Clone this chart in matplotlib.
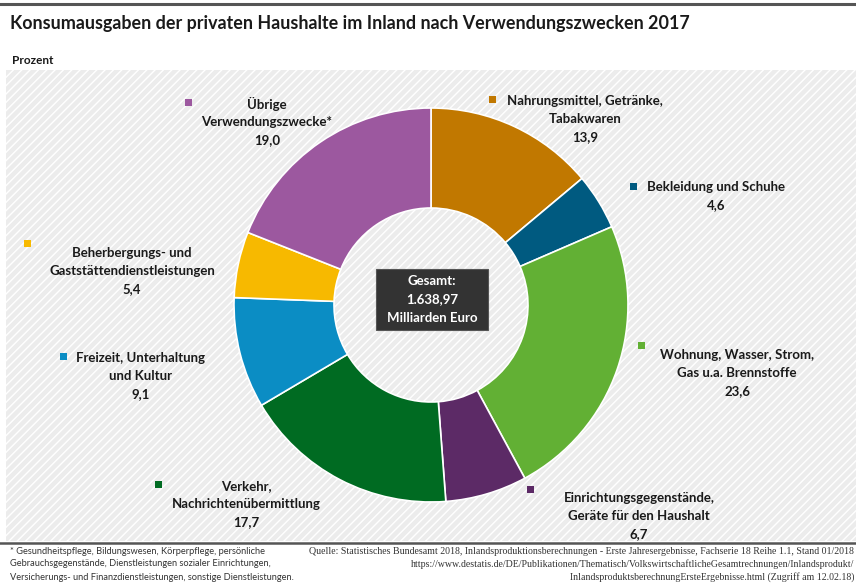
import matplotlib.pyplot as plt
from matplotlib.patches import Rectangle

plt.rcParams['font.family'] = ['Lato', 'DejaVu Sans']
plt.rcParams['hatch.linewidth'] = 1.0
plt.rcParams['hatch.color'] = 'white'

# Konsumausgaben 2017, Anteile in Prozent (im Uhrzeigersinn ab 12 Uhr)
categories = [
    "Nahrungsmittel, Getränke,\nTabakwaren",
    "Bekleidung und Schuhe",
    "Wohnung, Wasser, Strom,\nGas u.a. Brennstoffe",
    "Einrichtungsgegenstände,\nGeräte für den Haushalt",
    "Verkehr,\nNachrichtenübermittlung",
    "Freizeit, Unterhaltung\nund Kultur",
    "Beherbergungs- und\nGaststättendienstleistungen",
    "Übrige\nVerwendungszwecke*",
]
shares = [13.9, 4.6, 23.6, 6.7, 17.7, 9.1, 5.4, 19.0]
colors = ["#c17800", "#005a80", "#62b034", "#5c2a66",
          "#006b22", "#0b8dc4", "#f7b900", "#9c589f"]
total = "1.638,97"

# Beschriftung: (Marker x, Marker y, Textmitte x, erste Zeile y) in Pixeln
label_pos = [
    (493, 99, 585, 101),
    (634, 186, 716, 187),
    (642, 345, 737, 355),
    (531, 489, 639, 498),
    (159, 484, 246, 486),
    (64, 356, 141, 358),
    (28, 243, 132, 253),
    (189, 102, 267, 104),
]

W, H = 856, 583
fig = plt.figure(figsize=(W / 100, H / 100), dpi=100)
ax = fig.add_axes([0, 0, 1, 1])


def py(y):
    return H - y


# Hintergrund mit Schraffur
ax.add_patch(Rectangle((6, py(541)), W - 6, 541 - 70, facecolor="#ececec",
                       edgecolor="white", hatch="////", lw=0, zorder=0))
ax.plot([0, W], [py(4), py(4)], color="#555555", lw=2.2, zorder=1)
ax.plot([0, W], [py(543), py(543)], color="#555555", lw=1.8, zorder=1)

wedges, _ = ax.pie(shares, colors=colors, startangle=90, counterclock=False,
                   center=(431, py(305)), radius=197,
                   wedgeprops=dict(width=100, edgecolor="white", linewidth=1.2))
for w in wedges:
    w.set_zorder(2)

ax.set_xlim(0, W)
ax.set_ylim(0, H)
ax.set_aspect("auto")
ax.axis("off")

for cat, val, col, (mx, my, tx, ty) in zip(categories, shares, colors, label_pos):
    ax.add_patch(Rectangle((mx - 3.5, py(my) - 3.5), 7, 7, facecolor=col,
                           lw=0, zorder=3))
    lines = cat.split("\n") + [f"{val:.1f}".replace(".", ",")]
    for i, line in enumerate(lines):
        ax.text(tx, py(ty + i * 18), line, ha="center", va="center",
                fontsize=9.5, fontweight="bold", color="#1a1a1a", zorder=3)

# Gesamtbetrag in der Mitte
ax.add_patch(Rectangle((376, py(330)), 112, 61, facecolor="#333333",
                       edgecolor="#555555", lw=0.8, zorder=3))
for i, line in enumerate(["Gesamt:", total, "Milliarden Euro"]):
    ax.text(432, py(281 + i * 18.5), line, ha="center", va="center",
            fontsize=9.5, fontweight="bold", color="white", zorder=4)

ax.text(10, py(24), "Konsumausgaben der privaten Haushalte im Inland nach "
        "Verwendungszwecken 2017", ha="left", va="center", fontsize=12.9,
        fontweight="bold", color="#1a1a1a")
ax.text(12, py(60), "Prozent", ha="left", va="center", fontsize=8.5,
        fontweight="bold", color="#1a1a1a")

foot_left = ["* Gesundheitspflege, Bildungswesen, Körperpflege, persönliche",
             "Gebrauchsgegenstände, Dienstleistungen sozialer Einrichtungen,",
             "Versicherungs- und Finanzdienstleistungen, sonstige Dienstleistungen."]
for i, line in enumerate(foot_left):
    ax.text(10, py(551 + i * 13), line, ha="left", va="center", fontsize=6.7,
            color="#333333")

foot_right = ["Quelle: Statistisches Bundesamt 2018, Inlandsproduktionsberechnungen"
              " - Erste Jahresergebnisse, Fachserie 18 Reihe 1.1, Stand 01/2018",
              "https://www.destatis.de/DE/Publikationen/Thematisch/"
              "VolkswirtschaftlicheGesamtrechnungen/Inlandsprodukt/",
              "InlandsproduktsberechnungErsteErgebnisse.html (Zugriff am 12.02.18)"]
for i, line in enumerate(foot_right):
    ax.text(854, py(551 + i * 13), line, ha="right", va="center", fontsize=7.1,
            family="Liberation Serif", color="#333333")

fig.savefig("out.png", dpi=100)
